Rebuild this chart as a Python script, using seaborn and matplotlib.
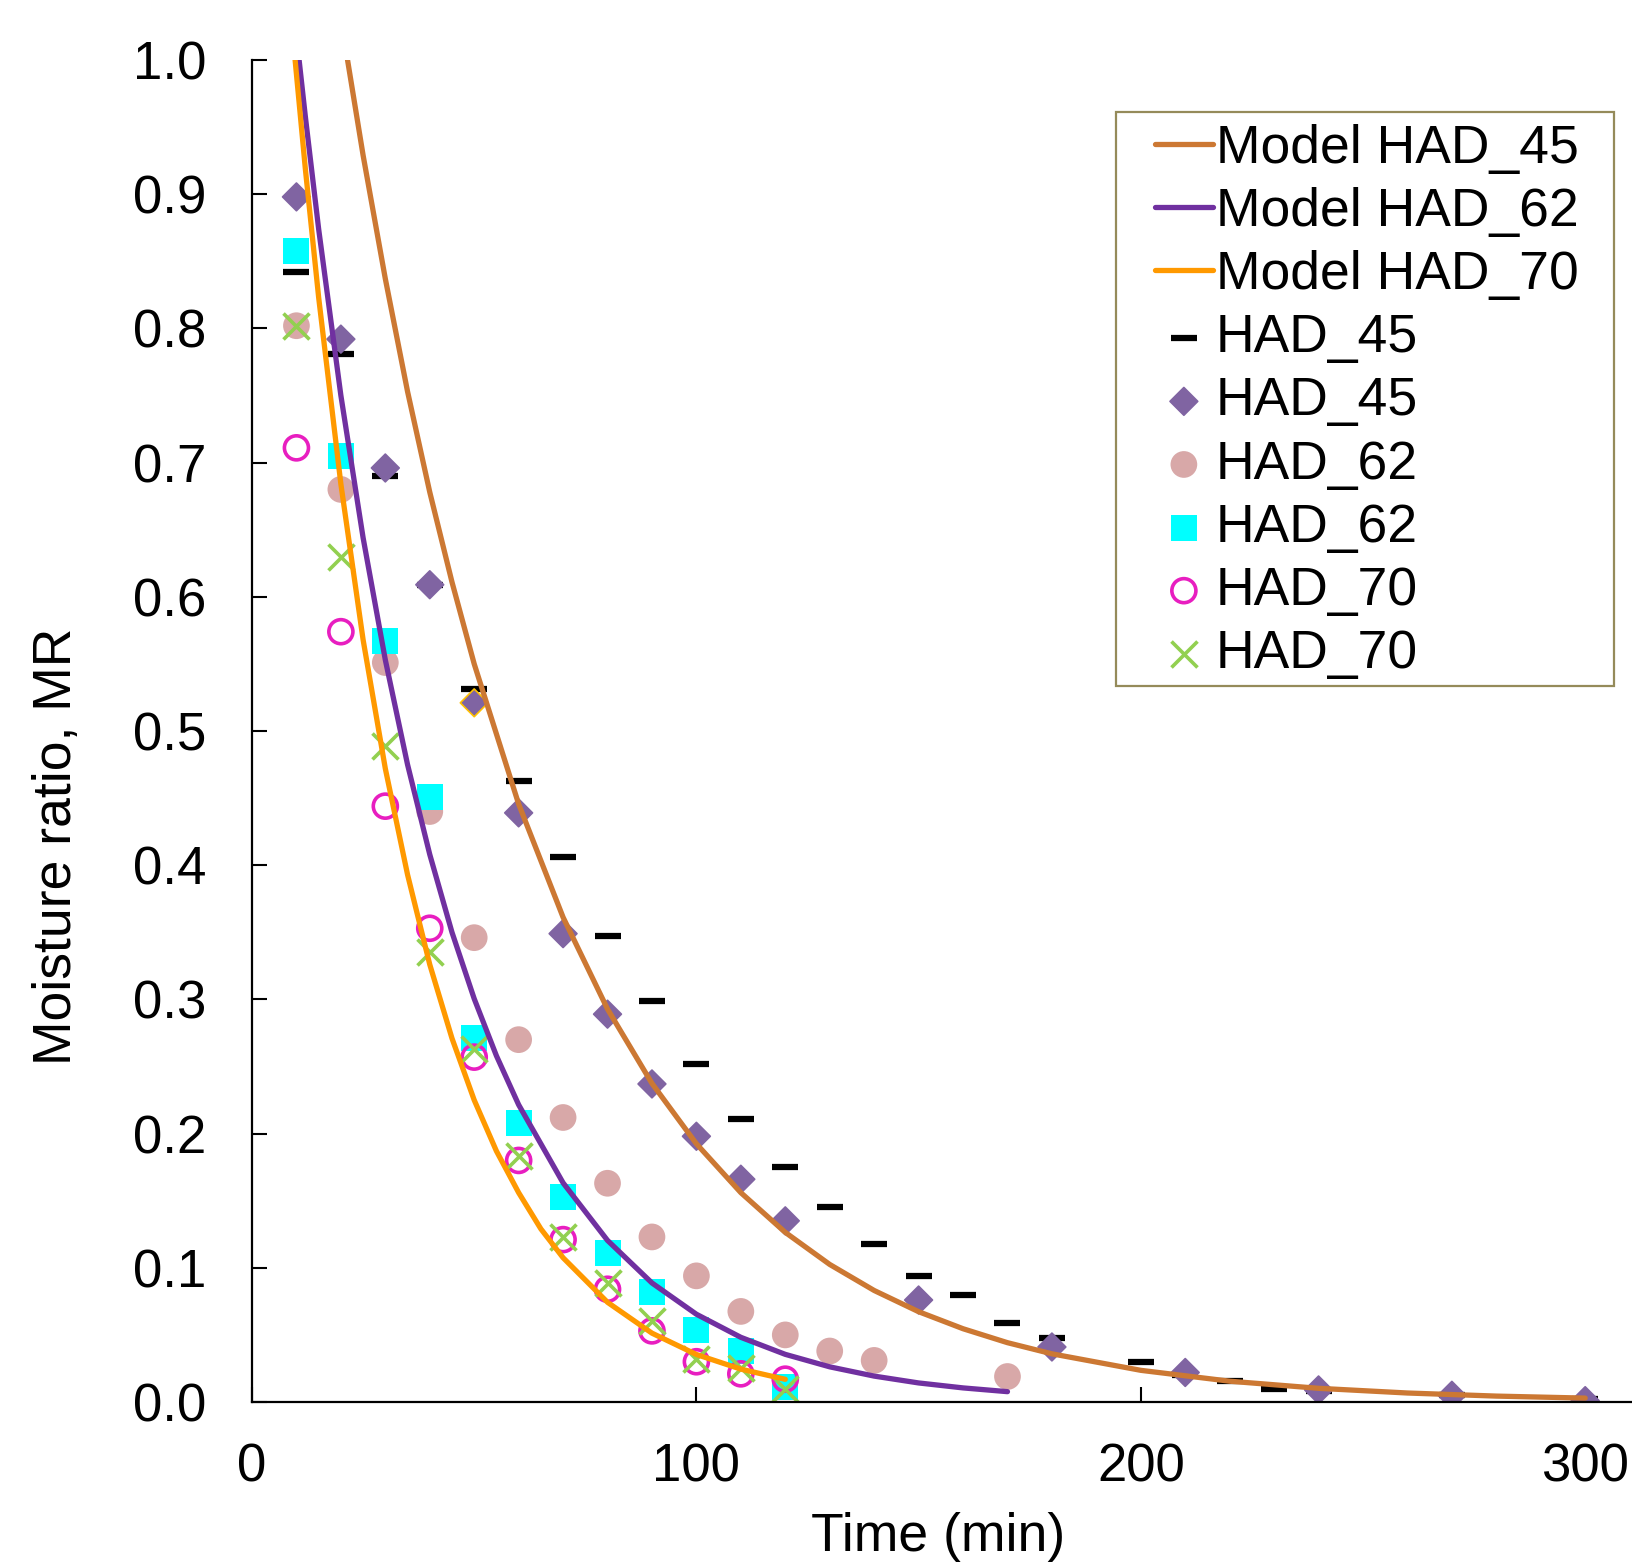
import matplotlib.pyplot as plt
import seaborn as sns
import numpy as np
import pandas as pd
from matplotlib.patches import Rectangle
from matplotlib.ticker import FormatStrFormatter

sns.set_style('ticks')
plt.rcParams['font.family'] = ['Liberation Sans', 'DejaVu Sans']
plt.rcParams.update({'text.color': 'black', 'axes.labelcolor': 'black',
                     'xtick.color': 'black', 'ytick.color': 'black'})

t_45_dash = [10, 20, 30, 40, 50, 60, 70, 80, 90, 100, 110, 120, 130, 140, 150, 160, 170, 180,
             200, 210, 220, 230, 240, 270, 300]
mr_45_dash = [0.842, 0.781, 0.690, 0.609, 0.531, 0.463, 0.406, 0.347, 0.299, 0.252, 0.211, 0.175,
              0.145, 0.118, 0.094, 0.080, 0.059, 0.048, 0.030, 0.020, 0.016, 0.010, 0.008, 0.005, 0.002]

t_45_diam = [10, 20, 30, 40, 50, 60, 70, 80, 90, 100, 110, 120, 150, 180, 210, 240, 270, 300]
mr_45_diam = [0.898, 0.792, 0.696, 0.609, 0.521, 0.439, 0.349, 0.289, 0.237, 0.198, 0.166, 0.135,
              0.076, 0.041, 0.022, 0.009, 0.005, 0.001]

t_62_circ = [10, 20, 30, 40, 50, 60, 70, 80, 90, 100, 110, 120, 130, 140, 170]
mr_62_circ = [0.802, 0.680, 0.551, 0.440, 0.346, 0.270, 0.212, 0.163, 0.123, 0.094, 0.0675, 0.050,
              0.038, 0.031, 0.019]

t_62_sq = [10, 20, 30, 40, 50, 60, 70, 80, 90, 100, 110, 120]
mr_62_sq = [0.858, 0.705, 0.567, 0.451, 0.271, 0.208, 0.153, 0.111, 0.082, 0.054, 0.038, 0.011]

t_70 = [10, 20, 30, 40, 50, 60, 70, 80, 90, 100, 110, 120]
mr_70_circ = [0.711, 0.574, 0.444, 0.353, 0.257, 0.180, 0.121, 0.084, 0.053, 0.030, 0.021, 0.017]
mr_70_x = [0.802, 0.630, 0.489, 0.335, 0.263, 0.183, 0.123, 0.089, 0.060, 0.032, 0.025, 0.010]

# ---- model curves ----
t_m45 = [21.5, 25, 30, 35, 40, 45, 50, 60, 70, 80, 90, 100, 110, 120, 130, 140, 150, 160, 170, 180,
         200, 220, 240, 260, 280, 300]
mr_m45 = [1.00, 0.929, 0.837, 0.753, 0.678, 0.611, 0.550, 0.4456, 0.3612, 0.2928, 0.2374, 0.1924,
          0.156, 0.1264, 0.1025, 0.0831, 0.0673, 0.0546, 0.0442, 0.0359, 0.0236, 0.0155, 0.0102,
          0.0067, 0.0044, 0.0029]

t_m62 = [10.6, 12, 15, 20, 25, 30, 35, 40, 45, 50, 55, 60, 70, 80, 90, 100, 110, 120, 130, 140,
         150, 160, 170]
mr_m62 = [1.00, 0.958, 0.874, 0.750, 0.644, 0.553, 0.475, 0.408, 0.350, 0.3005, 0.258, 0.2215,
          0.1633, 0.1204, 0.0887, 0.0654, 0.0482, 0.0355, 0.0262, 0.0193, 0.0142, 0.0105, 0.0077]

t_m70 = [9.7, 12, 15, 20, 25, 30, 35, 40, 45, 50, 55, 60, 65, 70, 80, 90, 100, 110, 120]
mr_m70 = [1.00, 0.919, 0.823, 0.684, 0.568, 0.472, 0.393, 0.326, 0.271, 0.225, 0.187, 0.156,
          0.129, 0.1075, 0.0743, 0.0513, 0.0354, 0.0245, 0.0169]

W, H = 1632, 1565
fig = plt.figure(figsize=(W / 100, H / 100), dpi=100)
ax = fig.add_axes([252 / W, 1 - 1402 / H, (W - 252) / W, (1402 - 60) / H])

lw = 3.8
sns.lineplot(x=t_m45, y=mr_m45, color='#CC7833', lw=lw, label='Model HAD_45', ax=ax)
sns.lineplot(x=t_m62, y=mr_m62, color='#7030A0', lw=lw, label='Model HAD_62', ax=ax)
sns.lineplot(x=t_m70, y=mr_m70, color='#FF9900', lw=lw, label='Model HAD_70', ax=ax)

# one diamond (t=50) carries a gold outline in the original
diam_edges = ['#FFC000' if t == 50 else '#8064A2' for t in t_45_diam]

sns.scatterplot(x=t_45_dash, y=mr_45_dash, marker='_', s=360, color='black', linewidth=4.5,
                label='HAD_45', ax=ax)
sns.scatterplot(x=t_45_diam, y=mr_45_diam, marker='D', s=200, color='#8064A2', edgecolor=diam_edges,
                linewidth=1.2, label='HAD_45', ax=ax)
sns.scatterplot(x=t_62_circ, y=mr_62_circ, marker='o', s=370, color='#D8A8A8', edgecolor='none',
                label='HAD_62', ax=ax)
sns.scatterplot(x=t_62_sq, y=mr_62_sq, marker='s', s=350, color='#00FFFF', edgecolor='none',
                label='HAD_62', ax=ax)
sns.scatterplot(x=t_70, y=mr_70_circ, marker='o', s=300, color='#E81EC0', facecolor='none',
                edgecolor='#E81EC0', linewidth=2.6, label='HAD_70', ax=ax)
sns.scatterplot(x=t_70, y=mr_70_x, marker='x', s=350, color='#92D050', linewidth=2.6,
                label='HAD_70', ax=ax)

ax.set_xlim(0, (W - 252) / 4.444)
ax.set_ylim(0, 1.0)
ax.set_xticks([0, 100, 200, 300])
ax.set_yticks(np.arange(0, 1.01, 0.1))
ax.yaxis.set_major_formatter(FormatStrFormatter('%.1f'))
ax.tick_params(axis='both', direction='in', length=11, width=1.5, labelsize=38, colors='black')
ax.tick_params(axis='y', pad=33)
ax.tick_params(axis='x', pad=29)
for s in ['top', 'right']:
    ax.spines[s].set_visible(False)
for s in ['left', 'bottom']:
    ax.spines[s].set_linewidth(1.6)
    ax.spines[s].set_color('black')

ax.set_xlabel('Time (min)', fontsize=38.5)
ax.set_ylabel('Moisture ratio, MR', fontsize=38.5)
ax.xaxis.set_label_coords(0.497, -0.082)
ax.yaxis.set_label_coords(-0.123, 0.414)

leg = ax.legend(loc='upper left', bbox_to_anchor=((1155 - 252) / 1380, (1402 - 124) / 1342),
                frameon=False, fontsize=38.5, handlelength=1.08, handletextpad=0.06,
                labelspacing=0.245, borderpad=0, borderaxespad=0)
# legend frame
ax.add_patch(Rectangle(((1116 - 252) / 1380, (1402 - 686) / 1342), 498 / 1380, 574 / 1342,
                       transform=ax.transAxes, fill=False, edgecolor='#958B5A', lw=1.6,
                       clip_on=False, zorder=5))

fig.savefig('out.png', dpi=100)
